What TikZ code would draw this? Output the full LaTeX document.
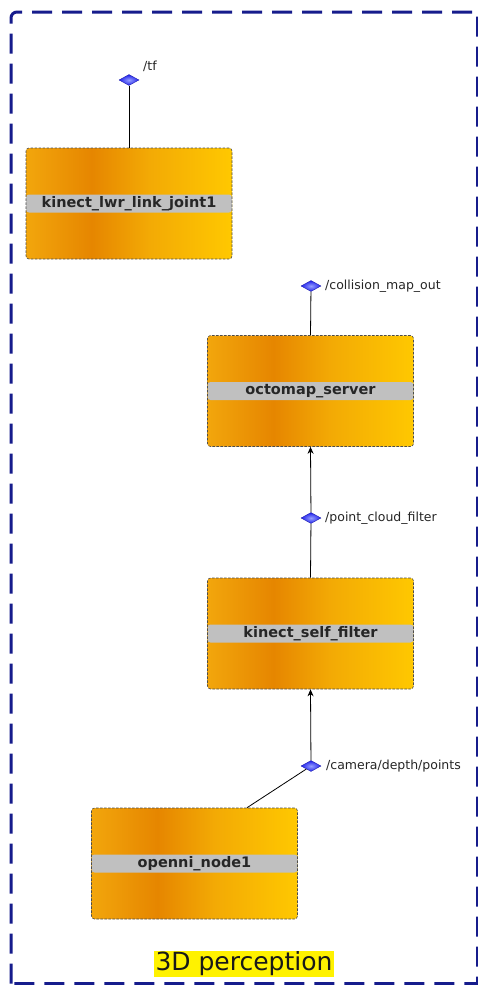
\documentclass[tikz,border=0pt]{standalone}
\usepackage{fontspec}
\setmainfont{DejaVu Sans}
\usetikzlibrary{shapes.geometric,arrows.meta,calc}
\definecolor{oA}{RGB}{242,166,12}
\definecolor{oB}{RGB}{230,134,0}
\definecolor{oC}{RGB}{243,170,5}
\definecolor{oD}{RGB}{255,200,0}
\definecolor{bandgray}{RGB}{192,192,192}
\definecolor{framenavy}{RGB}{22,28,140}
\definecolor{dBlue}{RGB}{30,30,235}
\definecolor{lBlue}{RGB}{150,160,255}
\pgfdeclarehorizontalshading{rosorange}{100bp}{color(0bp)=(oA); color(25bp)=(oA); color(41bp)=(oB); color(55bp)=(oC); color(75bp)=(oD); color(100bp)=(oD)}
\tikzset{
  rosnode/.style={rectangle, rounded corners=3pt, minimum width=206pt, minimum height=111pt,
    inner sep=0pt, shading=rosorange, draw=black!70, dash pattern=on 2.5pt off 1.5pt, line width=0.6pt,
    font=\fontsize{14.5}{16}\selectfont\bfseries, text=black!85,
    path picture={\fill[bandgray] ($(path picture bounding box.west)+(0,9pt)$) rectangle ($(path picture bounding box.east)+(0,-9pt)$);}},
  topic/.style={diamond, inner sep=0pt, minimum width=20pt, minimum height=11pt, shading=radial, inner color=lBlue, outer color=dBlue, draw=dBlue!70!black, line width=0.3pt},
  tlabel/.style={font=\fontsize{12.5}{14}\selectfont, text=black!85, anchor=west, inner sep=0pt},
  link/.style={draw=black, line width=0.8pt},
  arr/.style={link, -{Stealth[length=7pt,width=6pt]}}
}
\begin{document}
\begin{tikzpicture}[x=1pt,y=-1pt]
\useasboundingbox (0,0) rectangle (478,985);
\fill[white] (0,0) rectangle (478,985);
\draw[framenavy, line width=3pt, dash pattern=on 20pt off 10pt] (11,983.5) [rounded corners=6pt] -- (11,12) -- (30,12) [sharp corners] -- (477.5,12) -- (477.5,983.5) -- (11,983.5);
% nodes
\node[rosnode] (lwr) at (129,203.5) {kinect\_lwr\_link\_joint1};
\node[rosnode] (octo) at (310.5,391) {octomap\_server};
\node[rosnode] (self) at (310.5,633.5) {kinect\_self\_filter};
\node[rosnode] (openni) at (194.5,863.5) {openni\_node1};
% topics
\node[topic] (tf) at (129,80) {};
\node[topic] (cmo) at (311,286) {};
\node[topic] (pcf) at (311,518) {};
\node[topic] (cdp) at (311,766) {};
\node[tlabel] (tfl) at (143,66) {/tf};
\node[tlabel] (cmol) at (325,286) {/collision\_map\_out};
\node[tlabel] (pcfl) at (325,518) {/point\_cloud\_filter};
\node[tlabel] (cdpl) at (326,766) {/camera/depth/points};
% links
\draw[link] (lwr.north) -- (tf);
\draw[link] (octo.north) -- (cmo);
\draw[arr] (pcf) -- (octo.south);
\draw[link] (self.north) -- (pcf);
\draw[arr] (cdp) -- (self.south);
\draw[link] ($(openni.north)+(52.5,0)$) -- (cdp);
% label
\node[fill=yellow, inner xsep=2pt, inner ysep=1pt, font=\fontsize{25}{28}\selectfont, text=black!90] (title) at (244,964) {3D perception};
\end{tikzpicture}
\end{document}
